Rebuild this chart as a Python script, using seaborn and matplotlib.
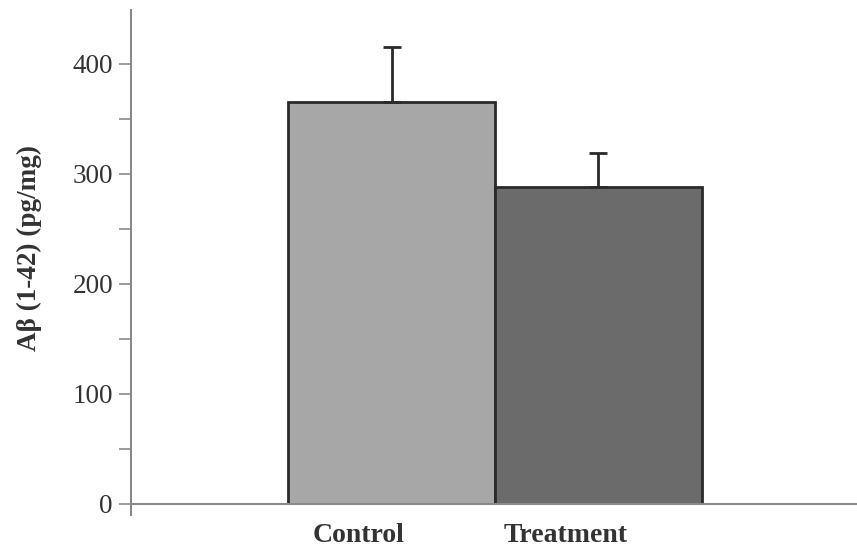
import matplotlib
matplotlib.use("Agg")
import matplotlib.pyplot as plt
import matplotlib.transforms as mtransforms
import seaborn as sns
import pandas as pd

groups = ["Control", "Treatment"]
abeta = [365, 288]          # pg/mg
sem = [50, 31]              # upper error
bar_colors = ["#a7a7a7", "#6b6b6b"]

sns.set_theme(style="white")
plt.rcParams["font.family"] = ["Liberation Serif", "DejaVu Serif"]

df = pd.DataFrame({"group": groups, "value": abeta})

fig = plt.figure(figsize=(8.57, 5.57), dpi=100)
ax = fig.add_axes([0.1529, 0.0952, 0.8471, 0.887])

sns.barplot(data=df, x="group", y="value", hue="group", palette=bar_colors,
            width=1.0, edgecolor="#2a2a2a", linewidth=2.0, legend=False,
            errorbar=None, ax=ax)

# upward-only error bars
ax.errorbar(range(len(groups)), abeta, yerr=[[0] * len(sem), sem], fmt="none",
            ecolor="#2a2a2a", elinewidth=2.0, capsize=6.5, capthick=2.0, zorder=5)

ax.set_xlim(-1.26, 2.25)
ax.set_ylim(0, 449)

axis_col = "#8a8a8a"
for side in ["top", "right"]:
    ax.spines[side].set_visible(False)
ax.spines["left"].set_color(axis_col)
ax.spines["bottom"].set_color(axis_col)
ax.spines["left"].set_linewidth(1.5)
ax.spines["bottom"].set_linewidth(1.5)
ax.spines["left"].set_bounds(-10, 449)

ax.set_yticks([0, 100, 200, 300, 400])
ax.set_yticks([50, 150, 250, 350], minor=True)
ax.tick_params(axis="y", which="both", direction="out", length=9, width=1.2,
               color=axis_col, labelsize=19.5, labelcolor="#333333", left=True, pad=4)
ax.tick_params(axis="x", length=0, labelsize=20, labelcolor="#333333", pad=14)
for lbl in ax.get_xticklabels():
    lbl.set_fontweight("bold")
    lbl.set_transform(lbl.get_transform() +
                      mtransforms.ScaledTranslation(-0.33, 0, fig.dpi_scale_trans))

ax.set_xlabel("")
ax.set_ylabel("Aβ (1-42) (pg/mg)", fontsize=19.5, fontweight="bold", color="#333333")
ax.yaxis.set_label_coords(-0.122, 0.518)

fig.savefig("out.png", dpi=100)
